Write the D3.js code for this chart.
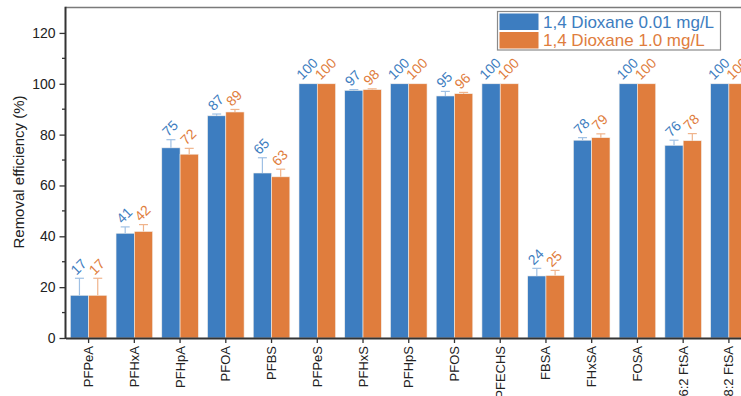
<!DOCTYPE html>
<html>
<head>
<meta charset="utf-8">
<script src="https://cdn.jsdelivr.net/npm/d3@7"></script>
<style>
  body { margin: 0; background: #fff; }
  svg { display: block; font-family: "Liberation Sans", Arial, sans-serif; }
</style>
</head>
<body>
<svg width="741" height="396"></svg>
<script>
// compounds on the x axis
var compounds = ['PFPeA', 'PFHxA', 'PFHpA', 'PFOA', 'PFBS', 'PFPeS', 'PFHxS', 'PFHpS',
                 'PFOS', 'PFECHS', 'FBSA', 'FHxSA', 'FOSA', '6:2 FtSA', '8:2 FtSA'];

// 1,4 dioxane 0.01 mg/L
var lowVals = [16.8, 41.2, 74.8, 87.4, 64.9, 100, 97.4, 100, 95.2, 100, 24.4, 77.8, 100, 75.8, 100];
var lowErr  = [6.7, 2.5, 3.2, 0.7, 6.0, 0, 0.3, 0, 1.8, 0, 3.0, 1.0, 0, 2.0, 0];

// 1,4 dioxane 1.0 mg/L
var highVals = [16.8, 41.9, 72.3, 88.9, 63.4, 100, 97.7, 100, 96.1, 100, 24.6, 78.8, 100, 77.6, 100];
var highErr  = [6.7, 2.7, 2.3, 1.0, 3.0, 0, 0.3, 0, 0.5, 0, 2.0, 1.5, 0, 2.8, 0];

var seriesNames = ['1,4 Dioxane 0.01 mg/L', '1,4 Dioxane 1.0 mg/L'];
var yTicks = [0, 20, 40, 60, 80, 100, 120];

var colors = ['#3d7dc0', '#e07d3d'];
var errColors = ['#9fc0e4', '#f0b48c'];

var svg = d3.select('svg');
var plotL = 65.5, plotT = 7.5, plotB = 338, plotR = 752;

var x = d3.scaleBand()
    .domain(compounds)
    .range([plotL, plotR])
    .paddingInner(0.2)
    .paddingOuter(0.105);

var sub = d3.scaleBand()
    .domain([0, 1])
    .range([0, x.bandwidth()]);

var y = d3.scaleLinear()
    .domain([0, 130])
    .range([plotB, plotT]);

var series = [
  {vals: lowVals, err: lowErr},
  {vals: highVals, err: highErr}
];

function barMid(d, si) {
  return x(d.c) + sub(si) + sub.bandwidth() / 2;
}

// bars + error bars + labels
series.forEach(function(s, si) {
  var g = svg.append('g');
  var data = compounds.map(function(c, i) {
    return {c: c, v: s.vals[i], e: s.err[i]};
  });

  g.selectAll('rect')
    .data(data)
    .enter()
    .append('rect')
    .attr('x', function(d) { return x(d.c) + sub(si); })
    .attr('y', function(d) { return y(d.v); })
    .attr('width', sub.bandwidth())
    .attr('height', function(d) { return y(0) - y(d.v); })
    .attr('fill', colors[si])
    .attr('stroke', '#f4f0ec')
    .attr('stroke-width', 0.6);

  var eb = g.selectAll('g.err')
    .data(data.filter(function(d) { return d.e > 0; }))
    .enter()
    .append('g')
    .attr('class', 'err')
    .attr('stroke', errColors[si])
    .attr('stroke-width', 1.2);
  eb.append('line')
    .attr('x1', function(d) { return barMid(d, si); })
    .attr('x2', function(d) { return barMid(d, si); })
    .attr('y1', function(d) { return y(d.v); })
    .attr('y2', function(d) { return y(d.v + d.e); });
  eb.append('line')
    .attr('x1', function(d) { return barMid(d, si) - 4.5; })
    .attr('x2', function(d) { return barMid(d, si) + 4.5; })
    .attr('y1', function(d) { return y(d.v + d.e); })
    .attr('y2', function(d) { return y(d.v + d.e); });

  // value labels, tilted 45 deg
  g.selectAll('text.lab')
    .data(data)
    .enter()
    .append('text')
    .attr('class', 'lab')
    .attr('transform', function(d) {
      var off = String(Math.round(d.v)).length > 2 ? 15 : 11.5;
      return 'translate(' + (barMid(d, si) - 1) + ',' + (y(d.v + d.e) - off) + ') rotate(-45)';
    })
    .attr('text-anchor', 'middle')
    .attr('dy', '0.35em')
    .attr('font-size', 14)
    .attr('fill', colors[si])
    .text(function(d) { return Math.round(d.v); });
});

// frame top line
svg.append('line')
  .attr('x1', plotL).attr('x2', 741)
  .attr('y1', plotT).attr('y2', plotT)
  .attr('stroke', '#7a7a7a').attr('stroke-width', 1.5);

// y axis
var yAxis = svg.append('g')
  .attr('transform', 'translate(' + plotL + ',0)')
  .call(d3.axisLeft(y).tickValues(yTicks).tickSize(6).tickPadding(4));
yAxis.select('.domain').remove();
yAxis.selectAll('text').attr('font-size', 14).attr('fill', '#222').style('font-family', 'Liberation Sans, Arial, sans-serif');
yAxis.selectAll('line').attr('stroke', '#333').attr('stroke-width', 1.3);

var minor = d3.range(10, 130, 20);
svg.append('g').selectAll('line')
  .data(minor)
  .enter()
  .append('line')
  .attr('x1', plotL - 3.5).attr('x2', plotL)
  .attr('y1', function(d) { return y(d); })
  .attr('y2', function(d) { return y(d); })
  .attr('stroke', '#333').attr('stroke-width', 1.3);

svg.append('line')
  .attr('x1', plotL).attr('x2', plotL)
  .attr('y1', plotT - 0.75).attr('y2', plotB + 1)
  .attr('stroke', '#333').attr('stroke-width', 2);

// x axis
var xAxis = svg.append('g')
  .attr('transform', 'translate(0,' + plotB + ')')
  .call(d3.axisBottom(x).tickSize(5).tickSizeOuter(0));
xAxis.select('.domain').attr('stroke', '#333').attr('stroke-width', 2);
xAxis.selectAll('line').attr('stroke', '#333').attr('stroke-width', 1.3);
xAxis.selectAll('text')
  .attr('font-size', 13)
  .attr('fill', '#222')
  .style('font-family', 'Liberation Sans, Arial, sans-serif')
  .attr('text-anchor', 'end')
  .attr('dominant-baseline', 'central')
  .attr('transform', 'rotate(-90)')
  .attr('x', -8)
  .attr('y', 0)
  .attr('dy', null);

// y label
svg.append('text')
  .attr('transform', 'translate(18,172) rotate(-90)')
  .attr('text-anchor', 'middle')
  .attr('dominant-baseline', 'central')
  .attr('font-size', 15)
  .attr('fill', '#222')
  .text('Removal efficiency (%)');

// legend
var lg = svg.append('g');
lg.append('rect')
  .attr('x', 497.5).attr('y', 11.5)
  .attr('width', 223).attr('height', 38.5)
  .attr('fill', '#fff')
  .attr('stroke', '#8a8a8a').attr('stroke-width', 1.2);
seriesNames.forEach(function(n, i) {
  lg.append('rect')
    .attr('x', 499.5).attr('y', 13.5 + i * 18.5)
    .attr('width', 39).attr('height', 16.5)
    .attr('fill', colors[i]);
  lg.append('text')
    .attr('x', 543).attr('y', 22 + i * 18.5)
    .attr('dominant-baseline', 'central')
    .attr('font-size', 17)
    .attr('fill', colors[i])
    .text(n);
});
</script>
</body>
</html>
